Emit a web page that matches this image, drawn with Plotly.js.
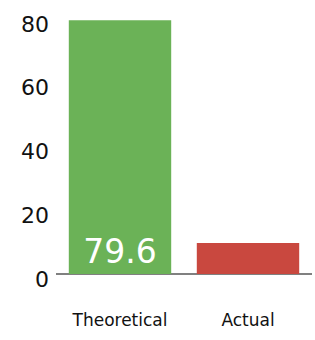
<!DOCTYPE html>
<html>
<head>
<meta charset="utf-8">
<script src="https://cdn.plot.ly/plotly-3.0.1.min.js"></script>
<style>html,body{margin:0;padding:0;background:#fff;}#chart{width:315px;height:340px;}</style>
</head>
<body>
<div id="chart"></div>
<script>
var categories = ['Theoretical', 'Actual'];
var values = [79.6, 9.7];
var barLabels = ['79.6', ''];
var barColors = ['#6bb257', '#c9483f'];
var yTicks = [0, 20, 40, 60, 80];

Plotly.newPlot('chart', [{
  type: 'bar',
  x: categories,
  y: values,
  text: barLabels,
  textposition: 'inside',
  insidetextanchor: 'start',
  textangle: 0,
  textfont: {family: 'DejaVu Sans', size: 33, color: '#ffffff'},
  marker: {color: barColors, line: {width: 0}},
  hoverinfo: 'none'
}], {
  width: 315, height: 340,
  margin: {l: 56, r: 3, t: 19, b: 66},
  paper_bgcolor: '#ffffff', plot_bgcolor: '#ffffff',
  bargap: 0.2,
  showlegend: false,
  font: {family: 'DejaVu Sans', color: '#111111'},
  xaxis: {
    showgrid: false, zeroline: false, showline: false,
    ticks: '', tickfont: {size: 17, color: '#111111'},
    ticklabelstandoff: 34
  },
  yaxis: {
    range: [0, 80], tickvals: yTicks, ticktext: yTicks.map(String),
    showgrid: false, zeroline: true, zerolinecolor: '#808080', zerolinewidth: 2,
    showline: false, ticks: '',
    tickfont: {size: 22, color: '#111111'},
    ticklabelstandoff: 6,
    ticklabelshift: 5
  }
}, {staticPlot: true, displayModeBar: false});
</script>
</body>
</html>
